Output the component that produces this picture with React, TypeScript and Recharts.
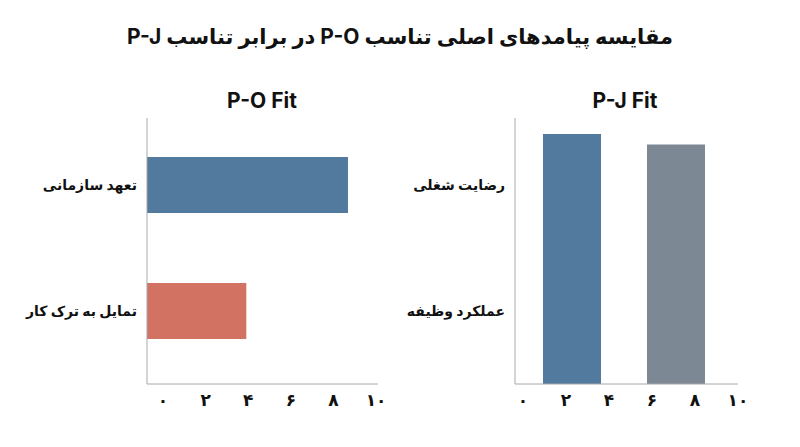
import React from 'react'
import { BarChart, Bar, XAxis, YAxis, Cell } from 'recharts'

// P-O Fit outcomes (horizontal bars)
const poLabels = ['تعهد سازمانی', 'تمایل به ترک کار']
const poValues = [8.7, 4.3]
const poColors = ['#52799e', '#d27262']

// P-J Fit outcomes (vertical bars)
const pjLabels = ['رضایت شغلی', 'عملکرد وظیفه']
const pjValues = [9.4, 9.0]
const pjColors = ['#52799e', '#7c8894']

const tickValues = [0, 2, 4, 6, 8, 10]
const tickLabels = ['۰', '۲', '۴', '۶', '۸', '۱۰']

const FONT = "Inter, 'DejaVu Sans', sans-serif"
const AXIS = '#a8a8a8'

const fmtTick = (v: number) => tickLabels[tickValues.indexOf(v)] ?? String(v)

const poData = poLabels.map((label, i) => ({ label, value: poValues[i] }))
const pjData = pjLabels.map((label, i) => ({ label, value: pjValues[i] }))

const tickStyle = { fontSize: 17, fontFamily: FONT, fontWeight: 700, fill: '#111' }
const catStyle = { fontSize: 14, fontFamily: FONT, fontWeight: 700, fill: '#111' }

const App: React.FC = () => {
  return (
    <div style={{ position: 'absolute', left: 0, top: 0, width: 800, height: 447, background: '#fff', fontFamily: FONT }}>
      <div
        dir="rtl"
        style={{ position: 'absolute', left: 0, top: 24, width: 800, textAlign: 'center', fontSize: 21, fontWeight: 700, color: '#111' }}
      >
        مقایسه پیامدهای اصلی تناسب P-O در برابر تناسب P-J
      </div>
      <div style={{ position: 'absolute', left: 162, top: 88, width: 200, textAlign: 'center', fontSize: 21, fontWeight: 700, color: '#111' }}>
        P-O Fit
      </div>
      <div style={{ position: 'absolute', left: 525, top: 88, width: 200, textAlign: 'center', fontSize: 21, fontWeight: 700, color: '#111' }}>
        P-J Fit
      </div>

      <div style={{ position: 'absolute', left: 0, top: 0 }}>
        <BarChart width={400} height={447} data={poData} layout="vertical" margin={{ top: 118, right: 22, bottom: 33, left: 0 }}>
          <XAxis xAxisId="val" type="number" domain={[0, 10]} allowDataOverflow hide />
          <XAxis
            xAxisId="tick"
            type="number"
            domain={[-0.75, 10.09]}
            allowDataOverflow
            ticks={tickValues}
            tickFormatter={fmtTick}
            height={30}
            stroke={AXIS}
            tickLine={false}
            tickSize={8}
            tick={tickStyle}
          />
          <YAxis
            type="category"
            dataKey="label"
            width={147}
            padding={{ top: 4, bottom: 10 }}
            stroke={AXIS}
            tickLine={false}
            tickSize={8}
            tick={catStyle}
          />
          <Bar xAxisId="val" dataKey="value" barSize={56} isAnimationActive={false}>
            {poData.map((_, i) => (
              <Cell key={i} fill={poColors[i]} />
            ))}
          </Bar>
        </BarChart>
      </div>

      {/* P-J panel: bars and category labels */}
      <div style={{ position: 'absolute', left: 400, top: 0 }}>
        <BarChart width={400} height={447} data={pjData} margin={{ top: 118, right: 62, bottom: 63, left: 0 }}>
          <XAxis type="category" dataKey="label" padding={{ left: 5, right: 10 }} hide />
          <YAxis yAxisId="val" type="number" domain={[0, 10]} allowDataOverflow hide />
          <YAxis
            yAxisId="cat"
            type="category"
            dataKey="label"
            scale="band"
            reversed
            width={115}
            padding={{ top: 4, bottom: 10 }}
            stroke={AXIS}
            tickLine={false}
            tickSize={8}
            tick={catStyle}
          />
          <Bar yAxisId="val" dataKey="value" barSize={58} isAnimationActive={false}>
            {pjData.map((_, i) => (
              <Cell key={i} fill={pjColors[i]} />
            ))}
          </Bar>
        </BarChart>
      </div>

      {/* P-J panel: numeric x axis */}
      <div style={{ position: 'absolute', left: 400, top: 0 }}>
        <BarChart width={400} height={447} data={pjData} layout="vertical" margin={{ top: 118, right: 62, bottom: 33, left: 115 }}>
          <XAxis
            type="number"
            domain={[-0.37, 10]}
            allowDataOverflow
            ticks={tickValues}
            tickFormatter={fmtTick}
            height={30}
            stroke={AXIS}
            tickLine={false}
            tickSize={8}
            tick={tickStyle}
          />
          <YAxis type="category" dataKey="label" hide />
        </BarChart>
      </div>
    </div>
  )
}

export default App
